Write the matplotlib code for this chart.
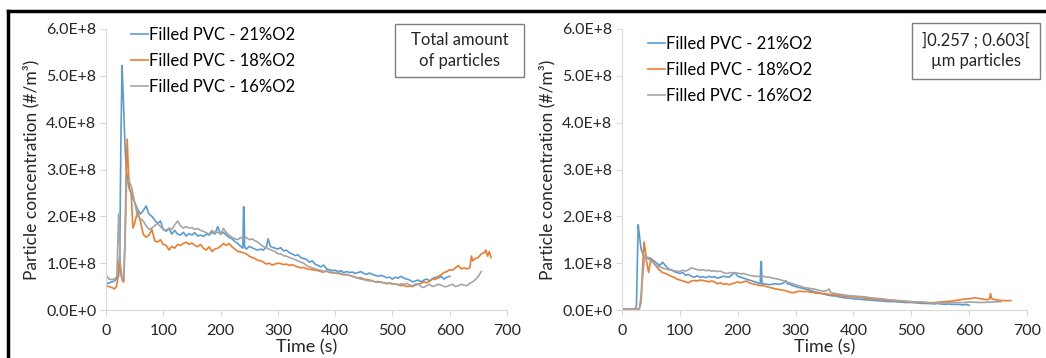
import matplotlib
matplotlib.use("Agg")
import matplotlib.pyplot as plt
from matplotlib.lines import Line2D
from matplotlib.patches import Rectangle
from matplotlib.ticker import FuncFormatter, MultipleLocator

plt.rcParams['font.family'] = ['Lato', 'DejaVu Sans']

# (time s, concentration in 1E8 #/m3)
left_21 = [(0, 0.55), (5, 0.58), (10, 0.6), (15, 0.62), (20, 0.68), (22, 0.72), (24, 1.2),
           (26, 3.6), (28, 5.22), (30, 4.6), (32, 3.9), (34, 3.3), (36, 2.95), (38, 2.75),
           (40, 2.62), (45, 2.45),
           (50, 2.30), (55, 2.15), (60, 2.05), (65, 2.12), (70, 2.22), (75, 2.05), (80, 2.0),
           (85, 1.92), (90, 1.85), (95, 1.9), (100, 1.72), (105, 1.68), (110, 1.74), (115, 1.62),
           (120, 1.7), (125, 1.62), (130, 1.6), (135, 1.66), (140, 1.58), (145, 1.63), (150, 1.6),
           (155, 1.65), (160, 1.58), (165, 1.6), (170, 1.57), (175, 1.62), (180, 1.6), (185, 1.66),
           (190, 1.62), (195, 1.78), (200, 1.62), (205, 1.66), (210, 1.6), (215, 1.55), (220, 1.52),
           (225, 1.46), (230, 1.42), (235, 1.36), (239, 1.32), (240, 2.2), (241, 2.2), (242, 1.35),
           (245, 1.3), (250, 1.36), (255, 1.33), (260, 1.3), (265, 1.28), (270, 1.3), (275, 1.28),
           (280, 1.35), (283, 1.52), (287, 1.36), (290, 1.34), (295, 1.32), (300, 1.3), (305, 1.33),
           (310, 1.26), (315, 1.28), (320, 1.22), (325, 1.2), (330, 1.16), (335, 1.18), (340, 1.12),
           (345, 1.1), (350, 1.08), (355, 1.02), (360, 1.05), (365, 0.98), (370, 0.95), (375, 0.92),
           (380, 0.96), (385, 0.88), (390, 0.86), (395, 0.84), (400, 0.85), (405, 0.82), (410, 0.84),
           (415, 0.8), (420, 0.82), (425, 0.8), (430, 0.81), (435, 0.78), (440, 0.8), (445, 0.82),
           (450, 0.78), (455, 0.76), (460, 0.79), (465, 0.76), (470, 0.74), (475, 0.72), (480, 0.74),
           (485, 0.72), (490, 0.69), (495, 0.7), (500, 0.66), (505, 0.7), (510, 0.68), (515, 0.72),
           (520, 0.68), (525, 0.66), (530, 0.64), (535, 0.6), (540, 0.62), (545, 0.64), (550, 0.6),
           (555, 0.64), (560, 0.66), (565, 0.62), (570, 0.67), (575, 0.7), (580, 0.68), (585, 0.72),
           (590, 0.66), (595, 0.7), (600, 0.72)]

left_18 = [(0, 0.52), (5, 0.5), (10, 0.48), (15, 0.45), (18, 0.5), (20, 0.62), (23, 1.05),
           (26, 0.75), (29, 0.62), (31, 0.6), (33, 1.4), (35, 2.8), (37, 3.65), (39, 3.0),
           (41, 2.6), (44, 2.5), (47, 1.75), (50, 1.85),
           (55, 2.1), (60, 1.9), (65, 1.62), (70, 1.55), (75, 1.6), (80, 1.72), (85, 1.48),
           (90, 1.45), (95, 1.5), (100, 1.4), (105, 1.38), (110, 1.28), (115, 1.36), (120, 1.32),
           (125, 1.4), (130, 1.38), (135, 1.42), (140, 1.45), (145, 1.4), (150, 1.43), (155, 1.38),
           (160, 1.35), (165, 1.4), (170, 1.32), (175, 1.28), (180, 1.35), (185, 1.25), (190, 1.3),
           (195, 1.32), (200, 1.36), (205, 1.42), (210, 1.38), (215, 1.42), (220, 1.35), (225, 1.3),
           (230, 1.25), (235, 1.24), (240, 1.22), (245, 1.2), (250, 1.15), (255, 1.12), (260, 1.1),
           (265, 1.06), (270, 1.05), (275, 1.02), (280, 0.98), (285, 1.0), (290, 0.96), (295, 0.98),
           (300, 1.0), (305, 0.99), (310, 0.97), (315, 0.98), (320, 0.95), (325, 0.97), (330, 0.94),
           (335, 0.92), (340, 0.9), (345, 0.91), (350, 0.88), (355, 0.87), (360, 0.86), (365, 0.85),
           (370, 0.84), (375, 0.82), (380, 0.81), (385, 0.83), (390, 0.8), (395, 0.79), (400, 0.8),
           (405, 0.78), (410, 0.77), (415, 0.75), (420, 0.76), (425, 0.74), (430, 0.72), (435, 0.7),
           (440, 0.68), (445, 0.69), (450, 0.66), (455, 0.65), (460, 0.64), (465, 0.62), (470, 0.6),
           (475, 0.61), (480, 0.59), (485, 0.58), (490, 0.57), (495, 0.58), (500, 0.56), (505, 0.55),
           (510, 0.54), (515, 0.52), (520, 0.53), (525, 0.5), (530, 0.51), (535, 0.5), (540, 0.53),
           (545, 0.55), (550, 0.57), (555, 0.6), (560, 0.58), (565, 0.62), (570, 0.66), (575, 0.65),
           (580, 0.72), (585, 0.75), (590, 0.8), (595, 0.82), (600, 0.86), (605, 0.85), (610, 0.9),
           (615, 0.95), (620, 0.88), (625, 0.9), (630, 0.88), (635, 0.9), (638, 1.15), (640, 1.05),
           (645, 1.1), (650, 1.12), (655, 1.2), (660, 1.22), (663, 1.28), (666, 1.15), (669, 1.25),
           (672, 1.12)]

left_16 = [(0, 0.75), (5, 0.66), (10, 0.65), (15, 0.66), (19, 0.72), (22, 2.05), (25, 1.0),
           (28, 0.7), (31, 0.65), (34, 1.8), (36, 2.75), (40, 2.78), (45, 2.6),
           (50, 2.3), (55, 2.0), (60, 1.95), (65, 1.9), (70, 1.8), (75, 1.72), (80, 1.75), (85, 1.8),
           (90, 1.85), (95, 1.78), (100, 1.72), (105, 1.7), (110, 1.75), (115, 1.72), (120, 1.82),
           (125, 1.9), (130, 1.8), (135, 1.75), (140, 1.78), (145, 1.75), (150, 1.76), (155, 1.72),
           (160, 1.74), (165, 1.7), (170, 1.68), (175, 1.65), (180, 1.62), (185, 1.7), (190, 1.65),
           (195, 1.66), (200, 1.62), (205, 1.74), (210, 1.65), (215, 1.6), (220, 1.55), (225, 1.52),
           (230, 1.5), (235, 1.55), (240, 1.52), (245, 1.55), (250, 1.5), (255, 1.52), (260, 1.48),
           (265, 1.45), (270, 1.4), (275, 1.35), (280, 1.33), (285, 1.3), (290, 1.27), (295, 1.25),
           (300, 1.2), (305, 1.2), (310, 1.16), (315, 1.15), (320, 1.12), (325, 1.1), (330, 1.08),
           (335, 1.05), (340, 1.02), (345, 1.0), (350, 0.95), (355, 0.92), (360, 0.9), (365, 0.88),
           (370, 0.86), (375, 0.85), (380, 0.82), (385, 0.84), (390, 0.82), (395, 0.8), (400, 0.79),
           (405, 0.8), (410, 0.78), (415, 0.76), (420, 0.75), (425, 0.74), (430, 0.72), (435, 0.7),
           (440, 0.68), (445, 0.66), (450, 0.65), (455, 0.63), (460, 0.62), (465, 0.63), (470, 0.6),
           (475, 0.59), (480, 0.6), (485, 0.58), (490, 0.56), (495, 0.57), (500, 0.55), (505, 0.56),
           (510, 0.54), (515, 0.56), (520, 0.55), (525, 0.57), (530, 0.53), (535, 0.52), (540, 0.55),
           (545, 0.56), (550, 0.5), (555, 0.48), (560, 0.52), (565, 0.55), (570, 0.5), (575, 0.52),
           (580, 0.55), (585, 0.53), (590, 0.5), (595, 0.5), (600, 0.53), (605, 0.55), (610, 0.5),
           (615, 0.52), (620, 0.55), (625, 0.53), (630, 0.52), (635, 0.57), (640, 0.6), (645, 0.65),
           (650, 0.72), (655, 0.82)]

right_21 = [(0, 0.02), (10, 0.02), (20, 0.02), (23, 0.03), (25, 0.1), (27, 1.3), (28, 1.82),
            (30, 1.6), (33, 1.3), (38, 1.15), (45, 1.12),
            (50, 1.1), (55, 1.05), (60, 1.0), (65, 0.95), (70, 1.02), (75, 0.95), (80, 0.88),
            (85, 0.86), (90, 0.82), (95, 0.8), (100, 0.78), (105, 0.8), (110, 0.74), (115, 0.76),
            (120, 0.72), (125, 0.7), (130, 0.73), (135, 0.7), (140, 0.71), (145, 0.69), (150, 0.72),
            (155, 0.7), (160, 0.71), (165, 0.68), (170, 0.7), (175, 0.72), (180, 0.71), (185, 0.7),
            (190, 0.75), (195, 0.8), (200, 0.72), (205, 0.7), (210, 0.68), (215, 0.66), (220, 0.64),
            (225, 0.62), (230, 0.6), (235, 0.58), (239, 0.56), (240, 1.03), (241, 1.03), (242, 0.55),
            (245, 0.56), (250, 0.55), (255, 0.54), (260, 0.55), (265, 0.56), (270, 0.55), (275, 0.56),
            (280, 0.58), (283, 0.63), (286, 0.56), (290, 0.55), (295, 0.52), (300, 0.5), (305, 0.48),
            (310, 0.47), (315, 0.45), (320, 0.44), (325, 0.42), (330, 0.4), (335, 0.38), (340, 0.37),
            (345, 0.35), (350, 0.34), (355, 0.32), (360, 0.31), (365, 0.3), (370, 0.3), (375, 0.28),
            (380, 0.27), (385, 0.26), (390, 0.25), (395, 0.25), (400, 0.24), (410, 0.23), (420, 0.22),
            (430, 0.21), (440, 0.2), (450, 0.19), (460, 0.18), (470, 0.18), (480, 0.17), (490, 0.16),
            (500, 0.16), (510, 0.15), (520, 0.14), (530, 0.14), (540, 0.13), (545, 0.14), (550, 0.13),
            (560, 0.12), (565, 0.13), (570, 0.12), (580, 0.12), (590, 0.11), (595, 0.12), (600, 0.1)]

right_18 = [(0, 0.02), (10, 0.02), (20, 0.02), (30, 0.02), (33, 0.3), (36, 1.0), (38, 1.45),
            (40, 1.3), (43, 1.0), (46, 0.8), (50, 1.1),
            (55, 1.0), (60, 0.92), (65, 0.85), (70, 0.8), (75, 0.78), (80, 0.75), (85, 0.72),
            (90, 0.7), (95, 0.66), (100, 0.64), (105, 0.62), (110, 0.6), (115, 0.58), (120, 0.62),
            (125, 0.63), (130, 0.62), (135, 0.64), (140, 0.63), (145, 0.62), (150, 0.6), (155, 0.62),
            (160, 0.6), (165, 0.56), (170, 0.58), (175, 0.55), (180, 0.56), (185, 0.54), (190, 0.56),
            (195, 0.58), (200, 0.6), (205, 0.58), (210, 0.6), (215, 0.62), (220, 0.58), (225, 0.56),
            (230, 0.55), (235, 0.53), (240, 0.52), (245, 0.52), (250, 0.5), (255, 0.48), (260, 0.47),
            (265, 0.45), (270, 0.44), (275, 0.43), (280, 0.42), (285, 0.4), (290, 0.38), (295, 0.37),
            (300, 0.38), (305, 0.4), (310, 0.4), (315, 0.39), (320, 0.4), (325, 0.38), (330, 0.38),
            (335, 0.36), (340, 0.36), (345, 0.35), (350, 0.35), (360, 0.33), (370, 0.32), (380, 0.3),
            (390, 0.29), (400, 0.28), (410, 0.27), (420, 0.25), (430, 0.24), (440, 0.23), (450, 0.22),
            (460, 0.2), (470, 0.2), (480, 0.19), (490, 0.18), (500, 0.17), (510, 0.17), (520, 0.16),
            (530, 0.15), (540, 0.16), (550, 0.17), (560, 0.18), (570, 0.19), (580, 0.21), (590, 0.23),
            (600, 0.24), (610, 0.26), (615, 0.25), (620, 0.24), (630, 0.22), (635, 0.23), (637, 0.35),
            (639, 0.24), (645, 0.22), (650, 0.21), (660, 0.2), (672, 0.2)]

right_16 = [(0, 0.02), (10, 0.02), (20, 0.02), (30, 0.03), (33, 0.15), (35, 0.6), (38, 1.0),
            (40, 1.15), (45, 1.1),
            (50, 1.05), (55, 1.0), (60, 0.95), (65, 0.92), (70, 0.9), (75, 0.88), (80, 0.86),
            (85, 0.85), (90, 0.84), (95, 0.83), (100, 0.82), (105, 0.85), (110, 0.83), (115, 0.86),
            (120, 0.9), (125, 0.88), (130, 0.86), (135, 0.85), (140, 0.86), (145, 0.84), (150, 0.85),
            (155, 0.83), (160, 0.84), (165, 0.82), (170, 0.83), (175, 0.8), (180, 0.78), (185, 0.79),
            (190, 0.8), (195, 0.78), (200, 0.79), (205, 0.77), (210, 0.78), (215, 0.76), (220, 0.74),
            (225, 0.73), (230, 0.72), (235, 0.72), (240, 0.71), (245, 0.72), (250, 0.7), (255, 0.7),
            (260, 0.68), (265, 0.67), (270, 0.66), (275, 0.64), (280, 0.62), (285, 0.6), (290, 0.58),
            (295, 0.56), (300, 0.54), (305, 0.52), (310, 0.5), (315, 0.48), (320, 0.47), (325, 0.46),
            (330, 0.45), (335, 0.44), (340, 0.42), (345, 0.41), (350, 0.4), (355, 0.42), (358, 0.45),
            (360, 0.38), (365, 0.36), (370, 0.35), (380, 0.33), (390, 0.31), (400, 0.3), (410, 0.29),
            (420, 0.28), (430, 0.26), (440, 0.25), (450, 0.24), (460, 0.22), (470, 0.21), (480, 0.2),
            (490, 0.19), (500, 0.18), (510, 0.17), (520, 0.17), (530, 0.16), (540, 0.15), (560, 0.15),
            (570, 0.16), (590, 0.16), (600, 0.17), (620, 0.16), (640, 0.17), (655, 0.18)]

labels = ['Filled PVC - 21%O2', 'Filled PVC - 18%O2', 'Filled PVC - 16%O2']
colors = ['#5B9BD5', '#ED7D31', '#A5A5A5']
box_texts = ['Total amount\nof particles', ']0.257 ; 0.603[\nµm particles']

W, H = 1046, 358
fig = plt.figure(figsize=(W / 100, H / 100), dpi=100)


def px(x0, y0, x1, y1):
    # pixel box -> figure fraction rect
    return [x0 / W, 1 - y1 / H, (x1 - x0) / W, (y1 - y0) / H]


def sci(v, pos):
    if v == 0:
        return '0.0E+0'
    return '%.1fE+8' % (v / 1e8)


axes = [fig.add_axes(px(106, 29, 507, 310)), fig.add_axes(px(622, 29, 1027, 310))]
panels = [[left_21, left_18, left_16], [right_21, right_18, right_16]]
leg_pos = [(0.062, 1.008), (0.064, 0.974)]

for ax, series, lp in zip(axes, panels, leg_pos):
    for data, lab, c in zip(series, labels, colors):
        t = [p[0] for p in data]
        v = [p[1] * 1e8 for p in data]
        ax.plot(t, v, color=c, lw=1.2, label=lab)
    ax.set_xlim(0, 700)
    ax.set_ylim(0, 6e8)
    ax.xaxis.set_major_locator(MultipleLocator(100))
    ax.yaxis.set_major_locator(MultipleLocator(1e8))
    ax.yaxis.set_major_formatter(FuncFormatter(sci))
    for s in ['top', 'right']:
        ax.spines[s].set_visible(False)
    for s in ['left', 'bottom']:
        ax.spines[s].set_color('#D9D9D9')
        ax.spines[s].set_linewidth(0.8)
    ax.tick_params(axis='both', colors='#D9D9D9', labelcolor='#262626', labelsize=11.5, length=4, width=0.8)
    ax.tick_params(axis='x', pad=6)
    ax.tick_params(axis='y', pad=3)
    ax.set_xlabel('Time (s)', fontsize=13, color='#262626', labelpad=1)
    ax.set_ylabel('Particle concentration (#/m³)', fontsize=12.5, color='#262626', labelpad=5)
    ax.legend(loc='upper left', bbox_to_anchor=lp, frameon=False, fontsize=12,
              handlelength=1.0, handletextpad=0.1, labelspacing=0.6,
              borderpad=0, borderaxespad=0)

boxes = [(395, 24, 524, 77), (912, 23, 1040, 79)]
for (x0, y0, x1, y1), txt in zip(boxes, box_texts):
    fig.add_artist(Rectangle((x0 / W, 1 - y1 / H), (x1 - x0) / W, (y1 - y0) / H,
                             transform=fig.transFigure, fill=False, ec='#7F7F7F', lw=1.0))
    fig.text((x0 + x1) / 2 / W, 1 - (y0 + y1) / 2 / H, txt, ha='center', va='center',
             fontsize=12, color='#262626', linespacing=1.35)

# black frame along the top and left edges
fig.add_artist(Line2D([7.5 / W, 1], [1 - 10.5 / H, 1 - 10.5 / H], color='black', lw=2.5,
                      transform=fig.transFigure))
fig.add_artist(Line2D([7.5 / W, 7.5 / W], [0, 1 - 10.5 / H], color='black', lw=2.5,
                      transform=fig.transFigure))

fig.savefig('out.png', dpi=100)
